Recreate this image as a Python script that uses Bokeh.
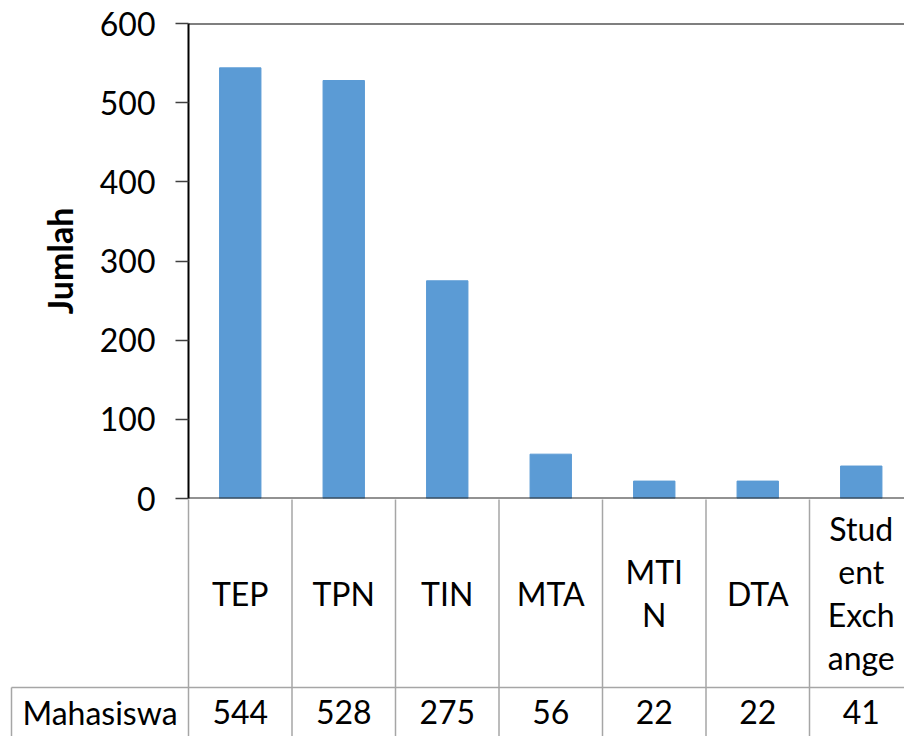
from bokeh.plotting import figure
from bokeh.layouts import column
from bokeh.models import Range1d, FixedTicker, Span, ColumnDataSource
from bokeh.core.properties import value
from bokeh.embed import file_html
from bokeh.resources import INLINE

# ---- data ----
categories = ["TEP", "TPN", "TIN", "MTA", "MTIN", "DTA", "Student Exchange"]
category_labels = ["TEP", "TPN", "TIN", "MTA", "MTI\nN", "DTA", "Stud\nent\nExch\nange"]
series_name = "Mahasiswa"
values = [544, 528, 275, 56, 22, 22, 41]
y_ticks = [0, 100, 200, 300, 400, 500, 600]
y_title = "Jumlah"

# ---- layout constants (pixels) ----
FIG_W = 904
PAGE_H = 736
FRAME_BOTTOM = 498
OVERLAP = 24
LEFT = 188
TOP = 23
CAT_W = 103.5
XMAX = (FIG_W - LEFT) / CAT_W
LABEL_AREA_H = 189
ROW_H = 49
ROW_LEFT_PX = 11

FONT = "Lato"
FS = "32px"
BAR_COLOR = "#5B9BD5"
GRID_GRAY = "#A6A6A6"

xs = [i + 0.5 for i in range(len(categories))]
bounds = list(range(len(categories) + 1))

# ---- chart ----
p = figure(width=FIG_W, height=FRAME_BOTTOM + OVERLAP, output_backend="svg", toolbar_location=None,
           x_range=Range1d(0, XMAX), y_range=Range1d(0, y_ticks[-1]),
           x_axis_location=None, min_border_left=LEFT, min_border_right=0,
           min_border_top=TOP, min_border_bottom=OVERLAP)
p.frame_align = False
p.outline_line_color = None
p.grid.visible = False
p.background_fill_color = "white"
p.border_fill_color = "white"

src = ColumnDataSource(dict(x=xs, top=values, cat=categories))
p.vbar(x="x", top="top", width=0.4, source=src, fill_color=BAR_COLOR, line_color=BAR_COLOR)

ax = p.yaxis[0]
ax.ticker = FixedTicker(ticks=y_ticks)
ax.minor_tick_line_color = None
ax.major_tick_out = 13
ax.major_tick_in = 0
ax.major_tick_line_color = "#404040"
ax.major_tick_line_width = 1.5
ax.axis_line_color = "black"
ax.axis_line_width = 2
ax.major_label_text_font = FONT
ax.major_label_text_font_size = FS
ax.major_label_text_color = "black"
ax.major_label_standoff = 20
ax.axis_label = y_title
ax.axis_label_text_font = FONT
ax.axis_label_text_font_size = "34px"
ax.axis_label_text_font_style = "bold"
ax.axis_label_text_color = "black"
ax.axis_label_standoff = 17

p.add_layout(Span(location=y_ticks[-1], dimension="width", line_color="black", line_width=2))
p.add_layout(Span(location=0, dimension="width", line_color="#262626", line_width=2))

# ---- data table (overlaps the chart's bottom border, transparent) ----
BOT_H = PAGE_H - FRAME_BOTTOM
x0 = -LEFT / CAT_W
xrow = (ROW_LEFT_PX - LEFT) / CAT_W
t = figure(width=FIG_W, height=BOT_H, output_backend="svg", toolbar_location=None,
           x_range=Range1d(x0, XMAX), y_range=Range1d(BOT_H, 0),
           x_axis_location=None, y_axis_location=None,
           min_border_left=0, min_border_right=0, min_border_top=0, min_border_bottom=0)
t.frame_align = False
t.margin = (-OVERLAP, 0, 0, 0)
t.outline_line_color = None
t.grid.visible = False
t.background_fill_color = None
t.border_fill_color = None

t.segment(x0=bounds, y0=[1] * len(bounds), x1=bounds, y1=[BOT_H] * len(bounds),
          line_color=GRID_GRAY, line_width=1.5)
t.segment(x0=[xrow, xrow], y0=[LABEL_AREA_H, LABEL_AREA_H], x1=[len(categories), xrow],
          y1=[LABEL_AREA_H, BOT_H], line_color=GRID_GRAY, line_width=1.5)

t.text(x=xs, y=[LABEL_AREA_H / 2] * len(xs), text=category_labels,
       text_font=value(FONT), text_font_size=FS, text_color="black",
       text_align="center", text_baseline="middle", text_line_height=1.11)
row_y = LABEL_AREA_H + ROW_H / 2
t.text(x=xs, y=[row_y] * len(xs), text=[str(v) for v in values],
       text_font=value(FONT), text_font_size=FS, text_color="black",
       text_align="center", text_baseline="middle")
t.text(x=[xrow / 2], y=[row_y], text=[series_name],
       text_font=value(FONT), text_font_size=FS, text_color="black",
       text_align="center", text_baseline="middle")

layout = column(p, t, spacing=0)
open("out.html", "w").write(file_html(layout, INLINE))
